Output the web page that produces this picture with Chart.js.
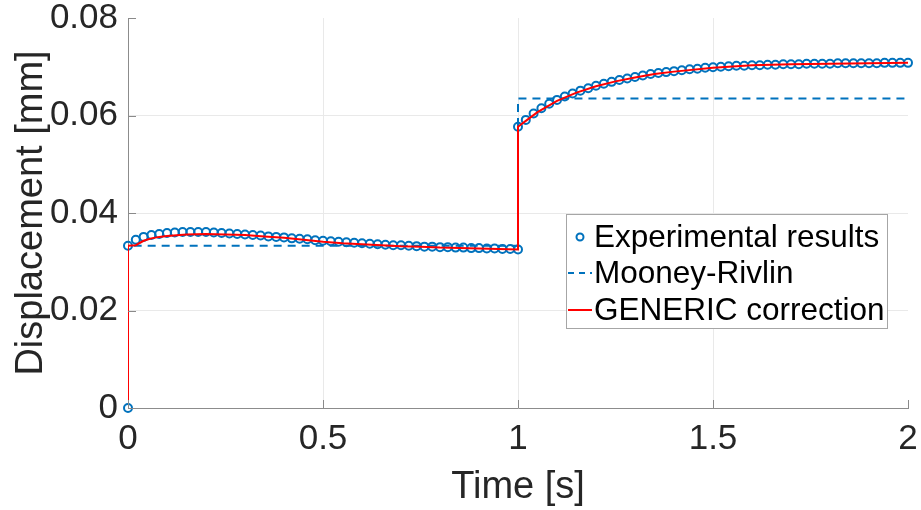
<!DOCTYPE html>
<html>
<head>
<meta charset="utf-8">
<script src="https://cdn.jsdelivr.net/npm/chart.js@4.4.0/dist/chart.umd.min.js"></script>
<style>
  html, body { margin: 0; padding: 0; background: #fff; }
  #wrap { width: 921px; height: 510px; }
</style>
</head>
<body>
<div id="wrap"><canvas id="disp-chart"></canvas></div>
<script>
// time samples of the measurements (two load steps, 0-1 s and 1-2 s)
var expTime1 = [0, 0, 0.02, 0.04, 0.06, 0.08, 0.10, 0.12, 0.14, 0.16, 0.18, 0.20, 0.22, 0.24, 0.26, 0.28, 0.30,
    0.32, 0.34, 0.36, 0.38, 0.40, 0.42, 0.44, 0.46, 0.48, 0.50, 0.52, 0.54, 0.56, 0.58, 0.60, 0.62, 0.64,
    0.66, 0.68, 0.70, 0.72, 0.74, 0.76, 0.78, 0.80, 0.82, 0.84, 0.86, 0.88, 0.90, 0.92, 0.94, 0.96, 0.98, 1.00];
var expDisp1 = [0, 0.0333, 0.0345, 0.0351, 0.0355, 0.0357, 0.0359, 0.0360, 0.0361, 0.0361, 0.0361, 0.0361,
    0.0360, 0.0359, 0.0358, 0.0357, 0.0356, 0.0355, 0.0354, 0.0352, 0.0351, 0.0350, 0.0348, 0.0347, 0.0346,
    0.0344, 0.0343, 0.0342, 0.0341, 0.0340, 0.0339, 0.0338, 0.0337, 0.0336, 0.0335, 0.0334, 0.0334, 0.0333,
    0.0332, 0.0331, 0.0331, 0.0330, 0.0330, 0.0329, 0.0329, 0.0328, 0.0328, 0.0327, 0.0327, 0.0326, 0.0326, 0.0325];
var expTime2 = [1.00, 1.02, 1.04, 1.06, 1.08, 1.10, 1.12, 1.14, 1.16, 1.18, 1.20, 1.22, 1.24, 1.26, 1.28, 1.30,
    1.32, 1.34, 1.36, 1.38, 1.40, 1.42, 1.44, 1.46, 1.48, 1.50, 1.52, 1.54, 1.56, 1.58, 1.60, 1.62, 1.64,
    1.66, 1.68, 1.70, 1.72, 1.74, 1.76, 1.78, 1.80, 1.82, 1.84, 1.86, 1.88, 1.90, 1.92, 1.94, 1.96, 1.98, 2.00];
var expDisp2 = [0.0577, 0.0591, 0.0604, 0.0615, 0.0624, 0.0632, 0.0639, 0.0645, 0.0651, 0.0656, 0.0661,
    0.0665, 0.0669, 0.0673, 0.0676, 0.0679, 0.0682, 0.0685, 0.0687, 0.0689, 0.0691, 0.0693, 0.0695, 0.0696,
    0.0698, 0.0699, 0.0700, 0.0701, 0.0702, 0.0702, 0.0703, 0.0703, 0.0704, 0.0704, 0.0705, 0.0705, 0.0705,
    0.0706, 0.0706, 0.0706, 0.0706, 0.0707, 0.0707, 0.0707, 0.0707, 0.0707, 0.0707, 0.0708, 0.0708, 0.0708, 0.0708];

// Mooney-Rivlin (step response)
var mrTime = [0, 0, 1, 1, 2];
var mrDisp = [0, 0.0333, 0.0333, 0.0635, 0.0635];

// GENERIC correction
var genTime = [0, 0, 0.02, 0.04, 0.06, 0.08, 0.10, 0.15, 0.20, 0.25, 0.30, 0.35, 0.40, 0.45, 0.50, 0.55,
    0.60, 0.65, 0.70, 0.75, 0.80, 0.85, 0.90, 0.95, 1.00,
    1.00, 1.02, 1.05, 1.10, 1.15, 1.20, 1.25, 1.30, 1.35, 1.40, 1.50, 1.60, 1.70, 1.80, 1.90, 2.00];
var genDisp = [0, 0.0333, 0.0334, 0.0343, 0.0348, 0.0351, 0.0353, 0.0356, 0.0357, 0.0356, 0.0355, 0.0352,
    0.0349, 0.0345, 0.0341, 0.0338, 0.0336, 0.0334, 0.0332, 0.0331, 0.0329, 0.0328, 0.0327, 0.0326, 0.0325,
    0.0577, 0.0589, 0.0607, 0.0630, 0.0647, 0.0660, 0.0670, 0.0678, 0.0685, 0.0690, 0.0698, 0.0703, 0.0705,
    0.0706, 0.0707, 0.0708];

var xTicks = [0, 0.5, 1, 1.5, 2];
var yTicks = [0, 0.02, 0.04, 0.06, 0.08];
var seriesNames = ["Experimental results", "Mooney-Rivlin", "GENERIC correction"];

var blue = "#0072BD";
var red = "#FF0000";
var textCol = "#262626";
var gridCol = "#e9e9e9";
var FONT = "'Liberation Sans', Arial, Helvetica, sans-serif";

function pts(xs, ys) {
    var out = [];
    for (var i = 0; i < xs.length; i++) out.push({ x: xs[i], y: ys[i] });
    return out;
}

// legend drawn inside the axes, like matlab "Location","east"
var insideLegend = {
    id: "insideLegend",
    afterDraw: function (chart) {
        var c = chart.ctx;
        var x0 = 566, y0 = 214, w = 321, h = 114;
        c.save();
        c.fillStyle = "#fff";
        c.fillRect(x0, y0, w, h);
        c.strokeStyle = "#a6a6a6";
        c.lineWidth = 1;
        c.strokeRect(x0 + 0.5, y0 + 0.5, w, h);

        var rows = [y0 + 23, y0 + 59, y0 + 96];
        // marker
        c.strokeStyle = blue;
        c.lineWidth = 2;
        c.beginPath();
        c.arc(580, rows[0], 3.5, 0, Math.PI * 2);
        c.stroke();
        // dashed
        c.setLineDash([6, 5]);
        c.beginPath();
        c.moveTo(568, rows[1]);
        c.lineTo(592, rows[1]);
        c.stroke();
        c.setLineDash([]);
        // solid red
        c.strokeStyle = red;
        c.beginPath();
        c.moveTo(568, rows[2]);
        c.lineTo(592, rows[2]);
        c.stroke();

        c.fillStyle = "#000";
        c.font = "31.5px " + FONT;
        c.textBaseline = "middle";
        c.textAlign = "left";
        for (var i = 0; i < seriesNames.length; i++) {
            c.fillText(seriesNames[i], 594, rows[i] + 1);
        }
        c.restore();
    }
};

// matlab style inward tick marks
var innerTicks = {
    id: "innerTicks",
    afterDatasetsDraw: function (chart) {
        var c = chart.ctx, a = chart.chartArea;
        var xs = chart.scales.x, ys = chart.scales.y;
        c.save();
        c.strokeStyle = "#8a8a8a";
        c.lineWidth = 1;
        c.beginPath();
        xTicks.forEach(function (t) {
            var px = Math.round(xs.getPixelForValue(t)) + 0.5;
            c.moveTo(px, a.bottom);
            c.lineTo(px, a.bottom - 8);
        });
        yTicks.forEach(function (t) {
            var py = Math.round(ys.getPixelForValue(t)) + 0.5;
            c.moveTo(a.left, py);
            c.lineTo(a.left + 8, py);
        });
        c.stroke();
        c.restore();
    }
};

// no box: hide the grid line on the far edges
function edgeGrid(last) {
    return function (g) {
        return g.tick && g.tick.value === last ? "rgba(0,0,0,0)" : gridCol;
    };
}

var ctx = document.getElementById("disp-chart").getContext("2d");

new Chart(ctx, {
    type: "line",
    data: {
        datasets: [
            {
                label: seriesNames[0],
                data: pts(expTime1.concat(expTime2), expDisp1.concat(expDisp2)),
                showLine: false,
                pointStyle: "circle",
                pointRadius: 4,
                pointBorderWidth: 2,
                pointBorderColor: blue,
                pointBackgroundColor: "rgba(0,0,0,0)",
                borderColor: blue,
                clip: false,
                order: 3
            },
            {
                label: seriesNames[1],
                data: pts(mrTime, mrDisp),
                borderColor: blue,
                borderWidth: 2,
                borderDash: [8, 6],
                pointRadius: 0,
                fill: false,
                order: 2
            },
            {
                label: seriesNames[2],
                data: pts(genTime, genDisp),
                borderColor: red,
                borderWidth: 2,
                pointRadius: 0,
                fill: false,
                order: 1
            }
        ]
    },
    options: {
        responsive: true,
        maintainAspectRatio: false,
        animation: false,
        layout: { padding: { top: 18, right: 13, left: 0, bottom: 0 } },
        plugins: {
            legend: { display: false },
            tooltip: { enabled: false }
        },
        elements: { line: { tension: 0 } },
        scales: {
            x: {
                type: "linear",
                min: 0,
                max: 2,
                afterBuildTicks: function (s) { s.ticks = xTicks.map(function (v) { return { value: v }; }); },
                afterFit: function (s) { s.height = 102; s.paddingLeft = 0; s.paddingRight = 0; },
                ticks: {
                    color: textCol,
                    font: { family: FONT, size: 35 },
                    padding: 10,
                    maxRotation: 0,
                    callback: function (v) { return String(v); }
                },
                grid: { color: edgeGrid(2), drawTicks: false },
                border: { color: "#8c8c8c" },
                title: {
                    display: true,
                    text: "Time [s]",
                    color: textCol,
                    font: { family: FONT, size: 38 },
                    padding: { top: 0, bottom: 0 }
                }
            },
            y: {
                min: 0,
                max: 0.08,
                afterBuildTicks: function (s) { s.ticks = yTicks.map(function (v) { return { value: v }; }); },
                afterFit: function (s) { s.width = 128; s.paddingTop = 0; s.paddingBottom = 0; },
                ticks: {
                    color: textCol,
                    font: { family: FONT, size: 35 },
                    padding: 10,
                    callback: function (v) { return String(+v.toFixed(2)); }
                },
                grid: { color: edgeGrid(0.08), drawTicks: false },
                border: { color: "#8c8c8c" },
                title: {
                    display: true,
                    text: "Displacement [mm]",
                    color: textCol,
                    font: { family: FONT, size: 38 },
                    padding: { top: 9, bottom: 0 }
                }
            }
        }
    },
    plugins: [innerTicks, insideLegend]
});
</script>
</body>
</html>
